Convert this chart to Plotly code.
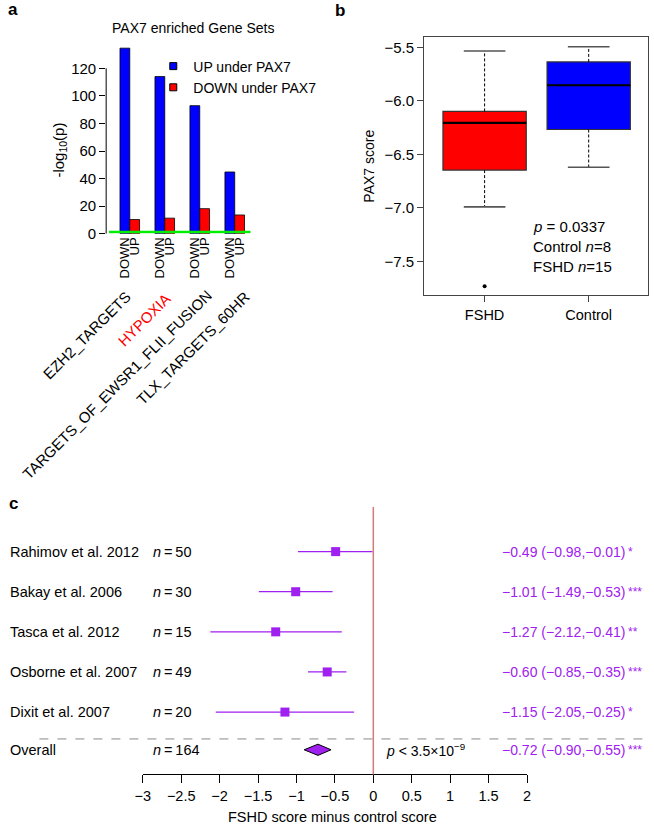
import plotly.graph_objects as go

W, H = 654, 833
FONT = "Liberation Sans, Arial, Helvetica, sans-serif"

# ---------------- data ----------------
# panel a
gene_sets = ["EZH2_TARGETS", "HYPOXIA", "TARGETS_OF_EWSR1_FLII_FUSION", "TLX_TARGETS_60HR"]
gene_set_colors = ["black", "red", "black", "black"]
up_vals = [134.6, 114.0, 92.9, 44.8]
down_vals = [10.3, 11.3, 18.2, 13.6]
bar_labels = ["DOWN", "UP"]
a_yticks = [0, 20, 40, 60, 80, 100, 120]
sig_threshold = 1.3  # -log10(0.05)

# panel b
groups = ["FSHD", "Control"]
b_q1 = [-6.647, -6.268]
b_med = [-6.206, -5.855]
b_q3 = [-6.099, -5.637]
b_low = [-6.99, -6.62]
b_up = [-5.535, -5.496]
b_out_group = ["FSHD"]
b_out_val = [-7.73]
b_colors = ["#ff0000", "#0000ff"]
b_yticks = [-7.5, -7.0, -6.5, -6.0, -5.5]
b_stats = ["<i>p</i> = 0.0337", "Control <i>n</i>=8", "FSHD <i>n</i>=15"]

# panel c
studies = ["Rahimov et al. 2012", "Bakay et al. 2006", "Tasca et al. 2012",
           "Osborne et al. 2007", "Dixit et al. 2007"]
study_n = [50, 30, 15, 49, 20]
study_est = [-0.49, -1.01, -1.27, -0.60, -1.15]
study_lo = [-0.98, -1.49, -2.12, -0.85, -2.05]
study_hi = [-0.01, -0.53, -0.41, -0.35, -0.25]
study_stars = ["*", "***", "**", "***", "*"]
overall_label = "Overall"
overall_n = 164
overall_est = -0.72
overall_lo = -0.90
overall_hi = -0.55
overall_stars = "***"
overall_p = "<i>p</i> < 3.5×10<sup>−9</sup>"
c_xticks = [-3, -2.5, -2, -1.5, -1, -0.5, 0, 0.5, 1, 1.5, 2]

PURPLE = "#a020f0"

# ---------------- helpers ----------------
def px_x(p):
    return p / W

def px_y(p):
    return 1 - p / H

def fmt(v):
    return f"{v:.2f}".replace("-", "\u2212")

fig = go.Figure()

# ---------------- panel a ----------------
ng = len(gene_sets)
fig.add_trace(go.Bar(x=list(range(ng)), y=up_vals, name="UP under PAX7",
                     marker=dict(color="#0000ff", line=dict(color="black", width=0.8)),
                     xaxis="x", yaxis="y", showlegend=False, offsetgroup="up"))
fig.add_trace(go.Bar(x=list(range(ng)), y=down_vals, name="DOWN under PAX7",
                     marker=dict(color="#ff0000", line=dict(color="black", width=0.8)),
                     xaxis="x", yaxis="y", showlegend=False, offsetgroup="down"))
# legend entries (small square swatches)
fig.add_trace(go.Scatter(x=[None], y=[None], mode="markers", name="UP under PAX7",
                         marker=dict(symbol="square", size=7, color="#0000ff",
                                     line=dict(color="black", width=1)),
                         xaxis="x", yaxis="y"))
fig.add_trace(go.Scatter(x=[None], y=[None], mode="markers", name="DOWN under PAX7",
                         marker=dict(symbol="square", size=7, color="#ff0000",
                                     line=dict(color="black", width=1)),
                         xaxis="x", yaxis="y"))

a_tickvals, a_ticktext = [], []
for i in range(ng):
    a_tickvals += [i - 0.14, i + 0.14]
    a_ticktext += bar_labels

# ---------------- panel b ----------------
for i, g in enumerate(groups):
    pos = i + 1
    fig.add_trace(go.Box(x=[pos], q1=[b_q1[i]], median=[b_med[i]], q3=[b_q3[i]],
                         lowerfence=[b_q1[i]], upperfence=[b_q3[i]],
                         width=0.8, whiskerwidth=0, fillcolor=b_colors[i],
                         line=dict(color="#333333", width=1.2),
                         boxpoints=False, xaxis="x2", yaxis="y2", showlegend=False,
                         hoverinfo="skip"))
    fig.add_trace(go.Scatter(x=[pos - 0.4, pos + 0.4], y=[b_med[i], b_med[i]], mode="lines",
                             line=dict(color="black", width=2.2), xaxis="x2", yaxis="y2",
                             showlegend=False))
    fig.add_trace(go.Scatter(x=[pos, pos, None, pos, pos],
                             y=[b_q3[i], b_up[i], None, b_q1[i], b_low[i]], mode="lines",
                             line=dict(color="black", width=1, dash="3px,2px"),
                             xaxis="x2", yaxis="y2", showlegend=False))
    fig.add_trace(go.Scatter(x=[pos - 0.2, pos + 0.2, None, pos - 0.2, pos + 0.2],
                             y=[b_up[i], b_up[i], None, b_low[i], b_low[i]], mode="lines",
                             line=dict(color="#555555", width=1.6),
                             xaxis="x2", yaxis="y2", showlegend=False))
fig.add_trace(go.Scatter(x=[groups.index(g) + 1 for g in b_out_group], y=b_out_val,
                         mode="markers", marker=dict(color="black", size=4),
                         xaxis="x2", yaxis="y2", showlegend=False))

# ---------------- panel c ----------------
rows = [len(studies) + 1 - k for k in range(len(studies))]  # 6..2
overall_row = 1.06
fig.add_trace(go.Scatter(
    x=study_est, y=rows, mode="markers",
    marker=dict(symbol="square", size=9, color=PURPLE),
    error_x=dict(type="data", symmetric=False,
                 array=[h - e for h, e in zip(study_hi, study_est)],
                 arrayminus=[e - l for e, l in zip(study_est, study_lo)],
                 color=PURPLE, thickness=1.2, width=0),
    xaxis="x3", yaxis="y3", showlegend=False))
dh = 0.14
fig.add_trace(go.Scatter(
    x=[overall_lo, overall_est, overall_hi, overall_est, overall_lo],
    y=[overall_row, overall_row + dh, overall_row, overall_row - dh, overall_row],
    mode="lines", fill="toself", fillcolor=PURPLE,
    line=dict(color="black", width=1), xaxis="x3", yaxis="y3", showlegend=False))

annotations = []
tf = dict(family=FONT, size=14.5, color="black")
pf = dict(family=FONT, size=14, color=PURPLE)
sf = dict(family=FONT, size=12, color=PURPLE)
all_rows = rows + [overall_row]
all_names = studies + [overall_label]
all_n = study_n + [overall_n]
all_est = study_est + [overall_est]
all_lo = study_lo + [overall_lo]
all_hi = study_hi + [overall_hi]
all_stars = study_stars + [overall_stars]
for name, n, e, l, h, s, r in zip(all_names, all_n, all_est, all_lo, all_hi, all_stars, all_rows):
    annotations.append(dict(x=px_x(0), y=r, xref="paper", yref="y3", text=name,
                            xanchor="left", yanchor="middle", showarrow=False, font=tf))
    annotations.append(dict(x=px_x(146), y=r, xref="paper", yref="y3",
                            text=f"<i>n</i>\u2009=\u2009{n}",
                            xanchor="left", yanchor="middle", showarrow=False, font=tf))
    annotations.append(dict(x=px_x(501), y=r, xref="paper", yref="y3",
                            text=f"{fmt(e)} ({fmt(l)},{fmt(h)})",
                            xanchor="left", yanchor="middle", showarrow=False, font=pf))
    annotations.append(dict(x=px_x(630), y=r, xref="paper", yref="y3", text=s,
                            xanchor="left", yanchor="middle", showarrow=False, font=sf))
annotations.append(dict(x=px_x(383), y=overall_row, xref="paper", yref="y3", text=overall_p,
                        xanchor="left", yanchor="middle", showarrow=False,
                        font=dict(family=FONT, size=14, color="black")))
annotations.append(dict(x=px_x(331), y=px_y(825), xref="paper", yref="paper",
                        text="FSHD score minus control score", xanchor="center", yanchor="middle",
                        showarrow=False, font=tf))

# panel a annotations
annotations.append(dict(x=px_x(188), y=px_y(28), xref="paper", yref="paper",
                        text="PAX7 enriched Gene Sets", xanchor="center", yanchor="middle",
                        showarrow=False, font=dict(family=FONT, size=14, color="black")))
annotations.append(dict(x=px_x(52), y=px_y(152), xref="paper", yref="paper",
                        text="-log<sub>10</sub>(p)", textangle=-90, xanchor="center",
                        yanchor="middle", showarrow=False,
                        font=dict(family=FONT, size=15, color="black")))
label_centers = [(80, 339), (139, 323), (111, 388), (188, 352)]
for lab, col, (cx, cy) in zip(gene_sets, gene_set_colors, label_centers):
    annotations.append(dict(x=px_x(cx), y=px_y(cy), xref="paper", yref="paper", text=lab,
                            textangle=-45, xanchor="center", yanchor="middle", showarrow=False,
                            font=dict(family=FONT, size=15, color=col)))

# panel b annotations
annotations.append(dict(x=px_x(368), y=px_y(168), xref="paper", yref="paper", text="PAX7 score",
                        textangle=-90, xanchor="center", yanchor="middle", showarrow=False,
                        font=dict(family=FONT, size=14, color="black")))
for k, t in enumerate(b_stats):
    annotations.append(dict(x=px_x(533), y=px_y(229 + 20 * k), xref="paper", yref="paper",
                            text=t, xanchor="left", yanchor="middle", showarrow=False,
                            font=dict(family=FONT, size=15, color="black")))

# panel labels
for lab, x, y in [("a", 5, 10), ("b", 338, 11), ("c", 6, 508)]:
    annotations.append(dict(x=px_x(x), y=px_y(y), xref="paper", yref="paper",
                            text=f"<b>{lab}</b>", xanchor="center", yanchor="middle",
                            showarrow=False, font=dict(family=FONT, size=17, color="black")))

shapes = [
    dict(type="line", xref="x domain", yref="y", x0=0, x1=0, y0=a_yticks[0], y1=a_yticks[-1],
         line=dict(color="black", width=1)),
    dict(type="line", xref="x domain", yref="y", x0=0.02, x1=1, y0=sig_threshold, y1=sig_threshold,
         line=dict(color="#00ee00", width=2.5), layer="above"),
    dict(type="line", xref="x3", yref="y3 domain", x0=0, x1=0, y0=0, y1=1,
         line=dict(color="#d47a7a", width=1.5)),
    dict(type="line", xref="paper", yref="y3", x0=px_x(32), x1=1, y0=1.33, y1=1.33,
         line=dict(color="#888888", width=1, dash="dash")),
]

tickf = dict(family=FONT, size=14.5, color="black")
fig.update_layout(
    width=W, height=H, margin=dict(l=0, r=0, t=0, b=0),
    paper_bgcolor="white", plot_bgcolor="white",
    font=dict(family=FONT, color="black"),
    barmode="group", bargap=0.44, bargroupgap=0,
    showlegend=True,
    legend=dict(x=px_x(148), y=px_y(51), xanchor="left", yanchor="top",
                font=dict(family=FONT, size=14, color="black"),
                bgcolor="rgba(0,0,0,0)", tracegroupgap=0, itemwidth=30),
    xaxis=dict(domain=[px_x(100), px_x(247)], range=[-0.675, 3.45], anchor="y",
               tickmode="array", tickvals=a_tickvals, ticktext=a_ticktext, tickangle=-90,
               ticks="", showline=False, showgrid=False, zeroline=False,
               tickfont=dict(family=FONT, size=13, color="black")),
    yaxis=dict(domain=[px_y(236), px_y(44.6)], range=[0, 137.5], anchor="x",
               tickmode="array", tickvals=a_yticks, ticks="outside", ticklen=6,
               tickcolor="black", showline=False, showgrid=False, zeroline=False,
               tickfont=dict(family=FONT, size=15, color="black")),
    xaxis2=dict(domain=[px_x(424), px_x(652)], range=[0.42, 2.57], anchor="y2",
                tickmode="array", tickvals=[1, 2], ticktext=groups, ticks="outside",
                ticklen=6, tickcolor="#444444", showline=True, linecolor="#444444",
                linewidth=1.2, mirror=True, showgrid=False, zeroline=False,
                tickfont=dict(family=FONT, size=14.5, color="black")),
    yaxis2=dict(domain=[px_y(298), px_y(37)], range=[-7.814, -5.401], anchor="x2",
                tickmode="array", tickvals=b_yticks, tickformat=".1f", ticks="outside",
                ticklen=6, tickcolor="#444444", showline=True, linecolor="#444444",
                linewidth=1.2, mirror=True, showgrid=False, zeroline=False,
                tickfont=dict(family=FONT, size=15, color="black")),
    xaxis3=dict(domain=[px_x(137.3), px_x(528.7)], range=[-3, 2], anchor="y3",
                tickmode="array", tickvals=c_xticks, ticks="outside", ticklen=8,
                tickcolor="black", showline=True, linecolor="black", linewidth=1,
                showgrid=False, zeroline=False, tickfont=tickf),
    yaxis3=dict(domain=[px_y(782), px_y(512)], range=[0.444, 7.11], anchor="x3",
                visible=False, showgrid=False, zeroline=False),
    annotations=annotations, shapes=shapes,
)

fig.write_html("out.html", config={"displayModeBar": False},
               post_script="document.body.style.margin='0';document.body.style.overflow='hidden';")
